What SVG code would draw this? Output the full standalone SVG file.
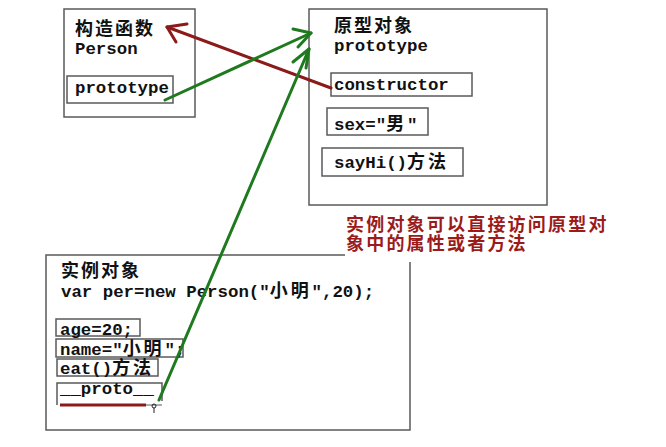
<svg xmlns="http://www.w3.org/2000/svg" width="666" height="447" viewBox="0 0 666 447">
<style>
.box{fill:none;stroke:#5a5a5a;stroke-width:1.5}
.t{font-family:"Liberation Mono","Noto Sans CJK SC",monospace;font-size:17.4px;font-weight:bold;fill:#111}
.c{font-family:"Noto Sans CJK SC","Liberation Sans",sans-serif;font-size:18px;font-weight:bold;letter-spacing:2.9px}
.h{font-family:"Noto Sans CJK SC","Liberation Sans",sans-serif;font-size:18px;font-weight:bold;letter-spacing:2px;fill:#111}
.note{font-family:"Noto Sans CJK SC","Liberation Sans",sans-serif;font-size:18px;font-weight:bold;letter-spacing:2.2px;fill:#9b1b1b}
.g{fill:none;stroke:#1f7a1f;stroke-width:3;stroke-linecap:round;stroke-linejoin:round}
.r{fill:none;stroke:#8b1a1a;stroke-width:3;stroke-linecap:round;stroke-linejoin:round}
</style>
<rect width="666" height="447" fill="#fff"/>
<g id="constructor-node">
<rect class="box" x="64" y="9" width="131" height="108"/>
<text class="h" x="75" y="35">构造函数</text>
<text class="t" x="75" y="54">Person</text>
<rect class="box" x="67" y="76" width="106" height="27"/>
<text class="t" x="75" y="93">prototype</text>
</g>
<g id="prototype-node">
<rect class="box" x="309" y="9" width="238" height="196"/>
<text class="h" x="334" y="32">原型对象</text>
<text class="t" x="334" y="51">prototype</text>
<rect class="box" x="331" y="73" width="141" height="23"/>
<text class="t" x="334" y="90">constructor</text>
<rect class="box" x="327" y="108" width="101" height="27"/>
<text class="t" x="334" y="130">sex="<tspan class="c">男</tspan>"</text>
<rect class="box" x="322" y="148" width="141" height="28"/>
<text class="t" x="334" y="168">sayHi()<tspan class="c">方法</tspan></text>
</g>
<g id="note">
<text class="note"><tspan x="346" y="231">实例对象可以直接访问原型对</tspan><tspan x="346" y="250">象中的属性或者方法</tspan></text>
</g>
<g id="instance-node">
<path class="box" d="M345 255 H46 V430 H410 V262"/>
<text class="h" x="61" y="277">实例对象</text>
<text class="t" x="61" y="297">var per=new Person("<tspan class="c">小明</tspan>",20);</text>
<rect class="box" x="56" y="319" width="84" height="17"/>
<text class="t" x="60" y="335">age=20;</text>
<rect class="box" x="56" y="339" width="127" height="18"/>
<text class="t" x="60" y="355">name="<tspan class="c">小明</tspan>";</text>
<rect class="box" x="57" y="359" width="101" height="17"/>
<text class="t" x="60" y="374">eat()<tspan class="c">方法</tspan></text>
<path class="box" d="M57 405 V383 H162 V401"/>
<text class="t" x="60" y="394">__proto__</text>
<line x1="60" y1="405" x2="146" y2="405" stroke="#8b1a1a" stroke-width="3"/>
<line x1="146" y1="405" x2="162" y2="405" stroke="#5a5a5a" stroke-width="1"/>
<circle cx="154" cy="406" r="2" fill="none" stroke="#222" stroke-width="1"/>
<line x1="154" y1="408" x2="154" y2="413" stroke="#222" stroke-width="1"/>
</g>
<g id="connectors">
<path class="r" d="M331 88 L167 27"/>
<path class="r" d="M187 24 L167 27 L176 42"/>
<path class="g" d="M165 100 L311 33"/>
<path class="g" d="M293 29 L311 33 L298 47"/>
<path class="g" d="M159 400 L309 49"/>
<path class="g" d="M293 62 L309 49 L306 68"/>
</g>
</svg>
